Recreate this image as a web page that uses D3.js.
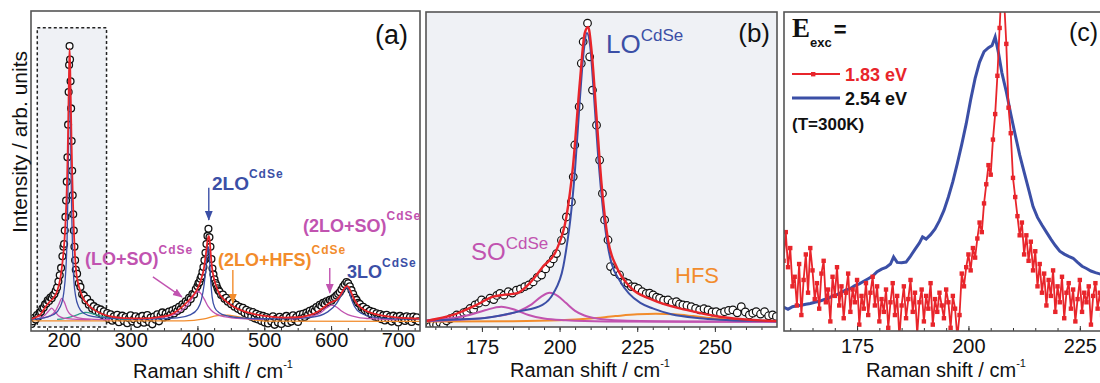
<!DOCTYPE html>
<html>
<head>
<meta charset="utf-8">
<script src="https://cdn.jsdelivr.net/npm/d3@7/dist/d3.min.js"></script>
<style>
  body { margin: 0; background: #fff; }
  svg { display: block; font-family: "Liberation Sans", Arial, sans-serif; }
</style>
</head>
<body>
<svg id="chart" width="1100" height="383"></svg>
<script>
// ---------- panel (a): full spectrum ----------
const aTicks = [200, 300, 400, 500, 600, 700];
const aMeasured = [
  [152,-1.5],[154,-0.5],[156,0.8],[158,0.2],[160,1.8],[162,1.2],[164,2.8],[166,3.0],[168,4.2],[170,4.6],
  [172,5.8],[174,6.1],[176,7.3],[178,7.0],[180,8.3],[182,8.0],[184,9.1],[186,9.6],[188,10.8],[190,12.0],
  [192,14.2],[194,16.5],[196,19.2],[198,23.5],[199.5,27],
  [200.5,28],[201.5,33],[202.5,38],[203.5,44],[204.5,51],[205.5,60],[206.5,72],[207.3,84],[208,94],[208.7,101],
  [209.4,96],[210.2,88],[211,78],[211.8,66],[212.6,55],[213.4,46],[214.2,39],[215,33],[216,27],[217,22],[218,18.5],
  [220,17],[222.5,13.5],[225,12.2],[227.5,9.5],[230,9.0],[232.5,7.2],[235,7.8],[237.5,5.6],[240,6.3],[242.5,4.2],
  [245,5.1],[247.5,3.4],[250,4.4],[252.5,2.8],[255,3.9],[257.5,1.9],[260,3.2],[262.5,1.2],[265,2.6],[267.5,0.4],
  [270,2.1],[272.5,-0.3],[275,1.4],[277.5,0.2],[280,1.9],[282.5,-0.8],[285,0.9],[287.5,1.6],[290,-0.4],[292.5,1.1],
  [295,-1.2],[297.5,0.6],[300,1.7],[302.5,-0.6],[305,0.3],[307.5,1.4],[310,-1.5],[312.5,0.8],[315,-0.2],[317.5,1.5],
  [320,-1.0],[322.5,0.4],[325,1.8],[327.5,-0.7],[330,0.9],[332.5,-1.6],[335,1.3],[337.5,0.1],[340,2.1],[342.5,-0.5],
  [345,1.6],[347.5,2.8],[350,0.9],[352.5,2.4],[355,1.3],[357.5,3.1],[360,2.0],[362.5,3.6],[365,2.4],[367.5,4.1],
  [370,3.3],[372.5,4.9],[375,4.0],[377.5,5.8],[380,5.1],[382.5,6.9],[385,6.3],[387.5,8.2],[390,7.7],[392.5,9.6],
  [395,9.4],[397.5,11.3],
  [400,12.4],[401.5,13.5],[403,13.9],[404.5,15.2],[406,16.1],[407.5,17.8],[409,19.5],[410.5,22.0],[412,24.8],[413.5,28.0],
  [415,31.0],[416.5,33.6],[418,30.5],[419.5,27.0],[421,22.5],[422.5,19.0],[424,16.8],[425.5,15.0],[427,13.6],[428.5,12.8],
  [430,11.7],[431.5,10.9],
  [433,10.5],[435.5,9.2],[438,9.4],[440.5,7.8],[443,8.2],[445.5,6.7],[448,7.3],[450.5,5.8],[453,6.4],[455.5,4.9],
  [458,5.6],[460.5,4.1],[463,4.9],[465.5,3.4],[468,4.5],[470.5,2.6],[473,3.8],[475.5,1.9],[478,3.2],[480.5,1.2],
  [483,2.9],[485.5,0.6],[488,2.3],[490.5,0.2],[493,1.8],[495.5,-0.4],[498,1.5],[500.5,-0.9],[503,1.1],[505.5,-1.3],
  [508,0.7],[510.5,-0.6],[513,1.4],[515.5,-1.8],[518,0.4],[520.5,-0.9],[523,1.2],[525.5,-1.5],[528,0.6],[530.5,-0.3],
  [533,1.5],[535.5,-1.1],[538,0.9],[540.5,-0.6],[543,1.7],[545.5,0.2],[548,1.1],[550.5,-0.7],[553,2.0],[555.5,0.8],
  [558,2.3],[560.5,1.1],[563,2.7],[565.5,1.9],[568,3.4],[570.5,2.6],[573,3.9],[575.5,3.3],[578,4.8],[580.5,4.1],
  [583,5.6],[585.5,5.2],[588,6.3],[590.5,5.9],[593,6.9],[595.5,6.5],[598,7.4],[600.5,7.1],[603,7.9],[605.5,8.4],
  [608,9.0],[610.5,9.6],[613,10.2],[615.5,11.2],[618,12.3],[620.5,13.2],[623,14.0],[625.5,13.5],[628,12.4],[630.5,11.0],
  [633,9.6],[635.5,8.2],[638,7.4],[640.5,6.3],[643,5.9],[645.5,4.6],[648,4.9],[650.5,3.6],[653,4.1],[655.5,2.8],
  [658,3.4],[660.5,1.9],[663,3.0],[665.5,1.2],[668,2.5],[670.5,0.8],[673,2.2],[675.5,0.3],[678,1.7],[680.5,-0.2],
  [683,1.9],[685.5,0.4],[688,1.3],[690.5,-0.6],[693,1.6],[695.5,0.1],[698,1.2],[700.5,-0.9],[703,1.5],[705.5,0.3],
  [708,0.9],[710.5,-0.4],[713,1.4],[715.5,0.0],[718,1.1],[720.5,-0.7],[723,1.3],[725.5,0.2],[728,1.0],[730.5,-0.5]
];
const aFit = [
  [152,0.4],[160,1.2],[165,2],[170,3.8],[175,5.6],[180,7],[185,8.2],[190,10.5],[195,15.5],[198,21],[200,26],
  [202,33],[204,44],[205,52],[206,63],[207,78],[208,93],[208.7,100],[209.5,95],[210.5,82],[211.5,68],[212.5,56],
  [213.5,46],[215,34],[217,23],[219,17],[221,14],[225,10.5],[229,8],[235,6],[244,4],[255,2.5],[270,1.3],[290,0.7],
  [320,0.6],[340,1],[360,2],[380,5.5],[390,8],[395,9.5],[400,11.5],[405,14.5],[410,19.5],[413,25],[415.5,30],
  [417,31],[418.5,29],[420,24],[422,19],[425,15],[428,12.5],[432,10],[438,8],[445,6.5],[455,4.8],[470,3.2],
  [485,2.2],[500,1.5],[530,0.9],[550,1],[565,1.6],[580,3],[590,4.8],[597,6.2],[603,6.8],[608,7.4],[613,8.8],
  [618,11],[622,12.3],[624.5,12.5],[627,11.8],[630,10.2],[634,8],[640,5.6],[648,4],[660,2.6],[680,1.5],[700,0.9],[733,0.5]
];
const aLO = [
  [152,0.2],[170,0.8],[185,2],[195,5],[200,10],[203,18],[205,30],[206.5,50],[207.5,72],[208.2,88],[208.7,93],
  [209.3,88],[210,74],[211,54],[212,38],[213.5,23],[215,15],[218,8.5],[222,5],[230,2.5],[245,1.2],[270,0.6],
  [320,0.3],[370,0.8],[390,2],[400,4],[406,7.5],[410,13],[413,20],[415,25.5],[416.3,27],[417.5,25],[419.5,16],
  [422,8.5],[426,4.5],[432,2.8],[445,1.5],[470,0.7],[520,0.4],[570,1],[595,3],[608,6],[615,9],[620,11.2],
  [623.5,12],[626.5,11],[630,8],[635,5],[645,2.5],[665,1],[700,0.4],[733,0.3]
];
const aSO1 = [[160,0.5],[165,0.8],[172,1.8],[177,3.2],[182,4.4],[187,3],[192,1.6],[200,0.7],[215,0.3],[240,0.1]];
const aSO2 = [[160,0.5],[170,0.8],[180,1.6],[188,3.5],[193,6],[197,8],[201,6.5],[205,3.8],[210,2],[220,0.9],[240,0.3],[270,0.1]];
const aLOSO = [[330,0.4],[340,0.8],[360,1.6],[375,3.2],[385,5.5],[392,8],[397,9.8],[401,10.5],[405,9.8],[410,7.8],[416,5],[423,3],[435,1.5],[460,0.6],[500,0.2]];
const a2LOSO = [[540,0.3],[550,0.5],[570,1.2],[585,2.8],[593,4.4],[601,5.5],[608,4.8],[615,3.4],[625,2],[640,1],[665,0.4],[700,0.1]];
const aTeal = [[190,0.2],[200,0.5],[212,1.2],[222,2.1],[233,2.8],[245,2.2],[258,1.2],[275,0.5],[300,0.2]];
const aHFS = [[152,-0.3],[380,-0.3],[410,0.4],[430,1.6],[445,1.8],[460,1.2],[480,0.2],[500,-0.4],[733,-0.5]];

// ---------- panel (b): LO region ----------
const bTicks = [175, 200, 225, 250];
const bMeasured = [
  [157.2,-2],[158.3,-1.5],[159.4,-0.6],[160.4,-1],[161.5,-0.2],[162.6,-1.2],[163.6,0.4],[164.8,1.1],[165.9,1.6],[166.9,2.4],
  [168,2.1],[169.1,3.2],[170.1,3.5],[171.2,4.6],[172.3,4.2],[172.8,5.8],[174,6.4],[174.9,7.5],[176.2,6.8],[177.6,8.1],
  [178.8,7.6],[179.8,9],[180.8,9.7],[182.1,9.1],[183.5,10.3],[184.8,9.8],[186.1,10.8],[187.4,11.2],[188.8,12],[190.1,12.6],
  [191.5,13.6],[192.8,15.1],[194.2,15.9],[195.5,18],[196.9,19.8],[198,21.4],[199,23.2],[200.6,27.7],[201.5,31],[202.2,35.6],
  [203.8,40.7],[204.4,49.2],[204.9,60],[206.3,73],[207,87.7],[207.6,95],[209,101.3],[209.7,89.9],[210.6,78.6],[211.9,66.7],
  [212.9,54.9],[213.8,43.6],[214.5,34.6],[215.6,27.8],[216.4,18.8],[217.7,17.1],[219.3,16],[220.9,13.6],[222,13.1],[223.1,12],
  [224.2,11.9],[225.3,11.4],[226.6,10.3],[227.9,9.7],[229,9.8],[230.1,9.2],[231.2,8.4],[232.2,8.1],[233.5,7.4],[234.9,7.5],
  [236.2,6.6],[237.6,6.9],[238.6,6.1],[239.7,5.8],[241,5.6],[242.4,5.2],[243.8,4.6],[245.1,4.1],[246.5,4.5],[247.8,4.1],
  [249.1,3.4],[250.4,3.5],[251.8,3],[253.1,3.5],[254.4,3.9],[255.8,4.1],[257.2,3.1],[258.5,5.2],[259.8,3.4],[261.1,2.4],
  [262.2,3],[263.3,3.5],[264.7,2.7],[266,3.5],[267.3,2.1],[268.6,2.4],[269.8,1.9]
];
const bFit = [
  [157,0.3],[161,1.2],[165.7,2.4],[169,3.8],[173.3,5.8],[178.6,8.6],[181.8,9.2],[186.1,9.7],[190.4,13.2],[194.7,18.8],
  [199,24.4],[202.2,35.7],[204.3,52.6],[206.5,80.9],[208.1,97.9],[209.2,100],[210.3,92],[211.9,69.6],[213.5,47],
  [215.6,27.8],[218.3,18.8],[222.6,12],[230,7.5],[240.8,4.1],[251.5,1.8],[262.2,0.7],[270,0.3]
];
const bLO = [
  [157,0.4],[165,0.8],[176,1.4],[187,3.6],[194.5,5.8],[198,9.7],[201.2,18.8],[202.2,25],[203.5,35],[205,52],
  [206.5,75],[207.8,92],[208.8,98],[209.8,94],[211,78],[212.5,55],[214,38],[215.5,26],[216.7,20],[219.4,14],
  [222.3,9.7],[226,6.5],[230,4.6],[236,2.6],[245,1.3],[251.5,0.8],[262,0.4],[270,0.3]
];
const bSO1 = [[157,0.6],[165,1.3],[171,2.4],[176,4],[181.3,5.2],[186,4],[190,2.4],[195,1.2],[202,0.6],[215,0.2],[240,0.1],[270,0.1]];
const bSO2 = [[157,0.3],[170,0.9],[180,2],[187,3.8],[191,6],[194,8.5],[196.8,9.9],[199.5,8.8],[202,6.5],[205,3.8],[208,2.2],[212,1.2],[220,0.5],[240,0.2],[270,0.1]];
const bHFS = [[157,0.2],[185,0.3],[200,0.6],[210,1.2],[218,2],[225,2.6],[231,2.8],[237,2.6],[243,2],[250,1.2],[258,0.6],[270,0.3]];

// ---------- panel (c): excitation comparison ----------
const cTicks = [175, 200, 225];
const cRed = [
  [158.5,22],[159,31],[159.5,20],[160,26],[160.5,14],[161,17],[161.5,8],[162,21],[162.5,5],[163,16],
  [163.5,24],[164,12],[164.5,26],[165,19],[165.5,10],[166,15],[166.5,7],[167,18],[167.5,22],[168,9],
  [168.5,13],[169,3],[169.5,17],[170,11],[170.5,20],[171,8],[171.5,14],[172,4],[172.5,12],[173,18],
  [173.5,6],[174,13],[174.5,9],[175,16],[175.5,2],[176,11],[176.5,7],[177,15],[177.5,5],[178,12],
  [178.5,17],[179,8],[179.5,14],[180,3],[180.5,10],[181,6],[181.5,13],[182,1],[182.5,9],[183,15],
  [183.5,5],[184,11],[184.5,-2],[185,8],[185.5,14],[186,4],[186.5,10],[187,16],[187.5,6],[188,12],
  [188.5,-1],[189,9],[189.5,13],[190,3],[190.5,11],[191,7],[191.5,15],[192,2],[192.5,10],[193,6],
  [193.5,12],[194,8],[194.5,4],[195,13],[195.5,9],[196,1],[196.5,11],[197,7],[197.5,-2],[198,5],
  [198.5,18],[199,14],[199.5,20],[200,24],[200.5,19],[201,26],[201.5,23],[202,29],[202.5,34],[203,31],
  [203.5,40],[204,46],[204.5,52],[205,49],[205.5,60],[206,68],[206.5,80],[207,95],[207.5,110],[208,104],
  [208.5,90],[209,70],[209.5,62],[210,48],[210.5,42],[211,36],[211.5,30],[212,34],[212.5,24],[213,30],
  [213.5,22],[214,28],[214.5,19],[215,25],[215.5,14],[216,21],[216.5,12],[217,18],[217.5,8],[218,16],
  [218.5,11],[219,19],[219.5,6],[220,14],[220.5,9],[221,17],[221.5,4],[222,12],[222.5,15],[223,7],
  [223.5,13],[224,3],[224.5,10],[225,16],[225.5,6],[226,12],[226.5,9],[227,14],[227.5,2],[228,11],
  [228.5,15],[229,7],[229.5,12],[230,5]
];
const cBlue = [
  [158.5,7.5],[159.5,6.8],[160.5,7.6],[161.5,7.9],[162.5,8.1],[163.5,8.4],[164.5,8.6],[165.5,9.0],[166.5,9.3],[167.5,9.8],
  [168.5,10.2],[169.5,11.0],[170.5,11.4],[171.5,12.1],[172.5,12.9],[173.5,13.3],[174.5,14.2],[175.5,14.8],[176.5,15.6],[177.5,16.4],
  [178.5,17.2],[179.5,18.6],[180.5,19.4],[181.5,19.9],[182.5,21.0],[183.2,23.2],[184,21.5],[185,21.4],[186,21.6],[187,23.5],
  [188,25.6],[189,27.6],[189.7,29.5],[190.5,28.8],[191.5,30.2],[192.5,32.0],[193.5,34.6],[194.5,37.8],[195.5,42.0],[196.5,46.8],
  [197.5,52.5],[198.5,58.5],[199.5,65.0],[200.5,72.5],[201.5,79.2],[202.5,84.3],[203.5,87.6],[204.5,88.8],[205.3,89.5],[206,92.2],
  [206.7,87.5],[207.5,81.0],[208.5,75.0],[209.5,68.0],[210.5,61.5],[211.5,55.2],[212.5,49.8],[213.5,44.5],[214.5,39.0],[215.5,35.6],
  [216.5,33.2],[217.5,31.0],[218.5,28.8],[219.5,26.8],[220.5,25.0],[221.5,24.1],[222.5,23.4],[223.5,22.8],[224.5,21.5],[225.5,20.3],
  [226.5,19.6],[227.5,18.8],[228.5,18.3],[229.5,17.9],[230.5,17.5]
];

const RED = '#e8252b', BLUE = '#3b4fa6', MAG = '#c153b0', ORANGE = '#f28c2c', TEAL = '#2e9a8a';

const svg = d3.select('#chart');
const defs = svg.append('defs');

function makePanel(id, box, xDomain, yDomain) {
  const x = d3.scaleLinear().domain(xDomain).range([box.left, box.right]);
  const y = d3.scaleLinear().domain(yDomain).range([box.bottom, box.top]);
  defs.append('clipPath').attr('id', 'clip-' + id).append('rect')
    .attr('x', box.left).attr('y', box.top)
    .attr('width', box.right - box.left).attr('height', box.bottom - box.top);
  const g = svg.append('g');
  if (box.bg) {
    g.append('rect').attr('x', box.left).attr('y', box.top)
      .attr('width', box.right - box.left).attr('height', box.bottom - box.top)
      .attr('fill', box.bg);
  }
  const plot = g.append('g').attr('clip-path', 'url(#clip-' + id + ')');
  return { x, y, g, plot, box };
}

function drawAxis(p, major, minor, inward, pad) {
  const s = inward ? -1 : 1;
  p.g.append('g')
    .attr('transform', 'translate(0,' + p.box.bottom + ')')
    .call(d3.axisBottom(p.x).tickValues(minor).tickSize(3 * s).tickFormat(''))
    .call(g => g.select('.domain').remove())
    .call(g => g.selectAll('line').attr('stroke', '#333'));
  p.g.append('g')
    .attr('transform', 'translate(0,' + p.box.bottom + ')')
    .call(d3.axisBottom(p.x).tickValues(major).tickSize(5 * s).tickPadding(pad).tickFormat(d3.format('d')))
    .call(g => g.select('.domain').remove())
    .call(g => g.selectAll('line').attr('stroke', '#333'))
    .call(g => g.selectAll('text').attr('font-size', 20).attr('fill', '#111')
      .attr('font-family', '"Liberation Sans", Arial, sans-serif'));
}

function drawFrame(p) {
  const b = p.box;
  p.g.append('rect').attr('x', b.left).attr('y', b.top)
    .attr('width', b.right - b.left).attr('height', b.bottom - b.top)
    .attr('fill', 'none').attr('stroke', '#555').attr('stroke-width', 1.6);
}

function xTitle(cx, y) {
  const t = svg.append('text').attr('x', cx).attr('y', y).attr('text-anchor', 'middle')
    .attr('font-size', 20).attr('fill', '#111');
  t.append('tspan').text('Raman shift / cm');
  t.append('tspan').attr('dy', -10).attr('font-size', 11).text('-1');
}

function supText(parent, x, y, main, sup, o) {
  const t = parent.append('text').attr('x', x).attr('y', y)
    .attr('fill', o.color).attr('font-size', o.size).attr('font-weight', o.weight || 'normal');
  t.append('tspan').text(main);
  t.append('tspan').attr('dy', -o.rise).attr('font-size', o.supSize)
    .attr('letter-spacing', o.ls || 0).text(sup);
}

function line(p, curve) {
  return d3.line().x(d => p.x(d[0])).y(d => p.y(d[1])).curve(curve || d3.curveMonotoneX);
}

function marker(color, name) {
  defs.append('marker').attr('id', 'arr-' + name)
    .attr('viewBox', '0 0 10 10').attr('refX', 9).attr('refY', 5)
    .attr('markerWidth', 7).attr('markerHeight', 7).attr('orient', 'auto')
    .append('path').attr('d', 'M0,1 L10,5 L0,9 Z').attr('fill', color);
}
marker(BLUE, 'blue'); marker(MAG, 'mag'); marker(ORANGE, 'orange');

function arrow(p, x1, y1, x2, y2, color, name) {
  p.g.append('line')
    .attr('x1', p.x(x1)).attr('y1', p.y(y1)).attr('x2', p.x(x2)).attr('y2', p.y(y2))
    .attr('stroke', color).attr('stroke-width', 1.4)
    .attr('marker-end', 'url(#arr-' + name + ')');
}

// ===== panel (a) =====
const pa = makePanel('a', { left: 31, right: 420, top: 11, bottom: 331 }, [151, 733], [-4.06, 113.9]);

// highlighted LO region
pa.plot.append('rect')
  .attr('x', pa.x(160.4)).attr('y', pa.y(107.7))
  .attr('width', pa.x(264) - pa.x(160.4)).attr('height', pa.y(-2.6) - pa.y(107.7))
  .attr('fill', '#eff1f5').attr('stroke', '#222').attr('stroke-width', 1.5)
  .attr('stroke-dasharray', '3,2.5');

pa.plot.selectAll('circle').data(aMeasured).enter().append('circle')
  .attr('cx', d => pa.x(d[0])).attr('cy', d => pa.y(d[1])).attr('r', 3.4)
  .attr('fill', '#fff').attr('stroke', '#111').attr('stroke-width', 1.3);

[[aHFS, ORANGE], [aTeal, TEAL], [aSO1, MAG], [aSO2, MAG], [aLOSO, MAG], [a2LOSO, MAG], [aLO, BLUE]]
  .forEach(s => pa.plot.append('path').attr('d', line(pa)(s[0]))
    .attr('fill', 'none').attr('stroke', s[1]).attr('stroke-width', 1.3));
pa.plot.append('path').attr('d', line(pa)(aFit))
  .attr('fill', 'none').attr('stroke', RED).attr('stroke-width', 1.8);

drawAxis(pa, aTicks, d3.range(175, 733, 25), true, 2);
drawFrame(pa);
xTitle(213, 378);

svg.append('text').attr('transform', 'translate(27,142) rotate(-90)')
  .attr('text-anchor', 'middle').attr('font-size', 21).attr('fill', '#111')
  .text('Intensity / arb. units');
pa.g.append('text').attr('x', 408).attr('y', 44).attr('text-anchor', 'end')
  .attr('font-size', 27).attr('fill', '#111').text('(a)');

supText(pa.g, 212, 190, '2LO', 'CdSe', { color: BLUE, size: 19, weight: 'bold', supSize: 12, rise: 12, ls: 1 });
supText(pa.g, 85, 265, '(LO+SO)', 'CdSe', { color: MAG, size: 18, weight: 'bold', supSize: 12, rise: 11, ls: 1 });
supText(pa.g, 218, 266, '(2LO+HFS)', 'CdSe', { color: ORANGE, size: 18, weight: 'bold', supSize: 12, rise: 12, ls: 1 });
supText(pa.g, 303, 232, '(2LO+SO)', 'CdSe', { color: MAG, size: 18, weight: 'bold', supSize: 12, rise: 12, ls: 1 });
supText(pa.g, 347, 278, '3LO', 'CdSe', { color: BLUE, size: 18, weight: 'bold', supSize: 12, rise: 11, ls: 1 });

arrow(pa, 417, 48.7, 417, 36.9, BLUE, 'blue');
arrow(pa, 333.4, 15.9, 376.7, 8.5, MAG, 'mag');
arrow(pa, 453, 18.4, 453, 6.3, ORANGE, 'orange');
arrow(pa, 598, 19.2, 598, 10, MAG, 'mag');

// ===== panel (b) =====
const pb = makePanel('b', { left: 426, right: 777, top: 12, bottom: 327, bg: '#eff1f5' }, [157, 270], [-1.69, 105.08]);

pb.plot.selectAll('circle').data(bMeasured).enter().append('circle')
  .attr('cx', d => pb.x(d[0])).attr('cy', d => pb.y(d[1])).attr('r', 3.8)
  .attr('fill', '#fff').attr('stroke', '#111').attr('stroke-width', 1.2);

[[bHFS, ORANGE], [bSO1, MAG], [bSO2, MAG], [bLO, BLUE]]
  .forEach(s => pb.plot.append('path').attr('d', line(pb)(s[0]))
    .attr('fill', 'none').attr('stroke', s[1]).attr('stroke-width', 2));
pb.plot.append('path').attr('d', line(pb)(bFit))
  .attr('fill', 'none').attr('stroke', RED).attr('stroke-width', 2.4);

drawAxis(pb, bTicks, d3.range(160, 270, 5), false, 8);
drawFrame(pb);
xTitle(590, 377);

pb.g.append('text').attr('x', 770).attr('y', 42).attr('text-anchor', 'end')
  .attr('font-size', 26).attr('fill', '#111').text('(b)');
supText(pb.g, 606, 53, 'LO', 'CdSe', { color: BLUE, size: 26, supSize: 17, rise: 12 });
supText(pb.g, 471, 260, 'SO', 'CdSe', { color: MAG, size: 24, supSize: 17, rise: 11 });
pb.g.append('text').attr('x', 675).attr('y', 283).attr('font-size', 22)
  .attr('fill', ORANGE).text('HFS');

// ===== panel (c) =====
const pc = makePanel('c', { left: 784, right: 1111, top: 12, bottom: 331 }, [158.6, 232], [0, 100]);

pc.plot.append('path').attr('d', line(pc, d3.curveLinear)(cBlue))
  .attr('fill', 'none').attr('stroke', BLUE).attr('stroke-width', 3);
pc.plot.append('path').attr('d', line(pc, d3.curveLinear)(cRed))
  .attr('fill', 'none').attr('stroke', RED).attr('stroke-width', 1.8);
pc.plot.selectAll('rect.pt').data(cRed).enter().append('rect').attr('class', 'pt')
  .attr('x', d => pc.x(d[0]) - 2.2).attr('y', d => pc.y(d[1]) - 2.2)
  .attr('width', 4.4).attr('height', 4.4).attr('fill', RED);

drawAxis(pc, cTicks, d3.range(160, 232, 5), true, 8);
drawFrame(pc);
xTitle(946, 377);

pc.g.append('text').attr('x', 1069).attr('y', 41).attr('font-size', 25)
  .attr('fill', '#111').text('(c)');

// legend
const eTxt = pc.g.append('text').attr('x', 792).attr('y', 37).attr('fill', '#111');
eTxt.append('tspan').attr('font-family', '"Liberation Serif", "Times New Roman", serif')
  .attr('font-size', 27).attr('font-weight', 'bold').text('E');
eTxt.append('tspan').attr('dy', 10).attr('font-size', 13).attr('font-weight', 'bold').text('exc');
eTxt.append('tspan').attr('dy', -10).attr('dx', 2).attr('font-size', 22).attr('font-weight', 'bold').text('=');

pc.g.append('line').attr('x1', 792).attr('x2', 840).attr('y1', 74).attr('y2', 74)
  .attr('stroke', RED).attr('stroke-width', 1.8);
pc.g.append('rect').attr('x', 811).attr('y', 72).attr('width', 4.4).attr('height', 4.4).attr('fill', RED);
pc.g.append('text').attr('x', 845).attr('y', 81).attr('font-size', 18).attr('font-weight', 'bold')
  .attr('fill', RED).text('1.83 eV');
pc.g.append('line').attr('x1', 792).attr('x2', 840).attr('y1', 98).attr('y2', 98)
  .attr('stroke', BLUE).attr('stroke-width', 3);
pc.g.append('text').attr('x', 845).attr('y', 105).attr('font-size', 18).attr('font-weight', 'bold')
  .attr('fill', '#111').text('2.54 eV');
pc.g.append('text').attr('x', 792).attr('y', 130).attr('font-size', 17).attr('font-weight', 'bold')
  .attr('fill', '#111').text('(T=300K)');
</script>
</body>
</html>
